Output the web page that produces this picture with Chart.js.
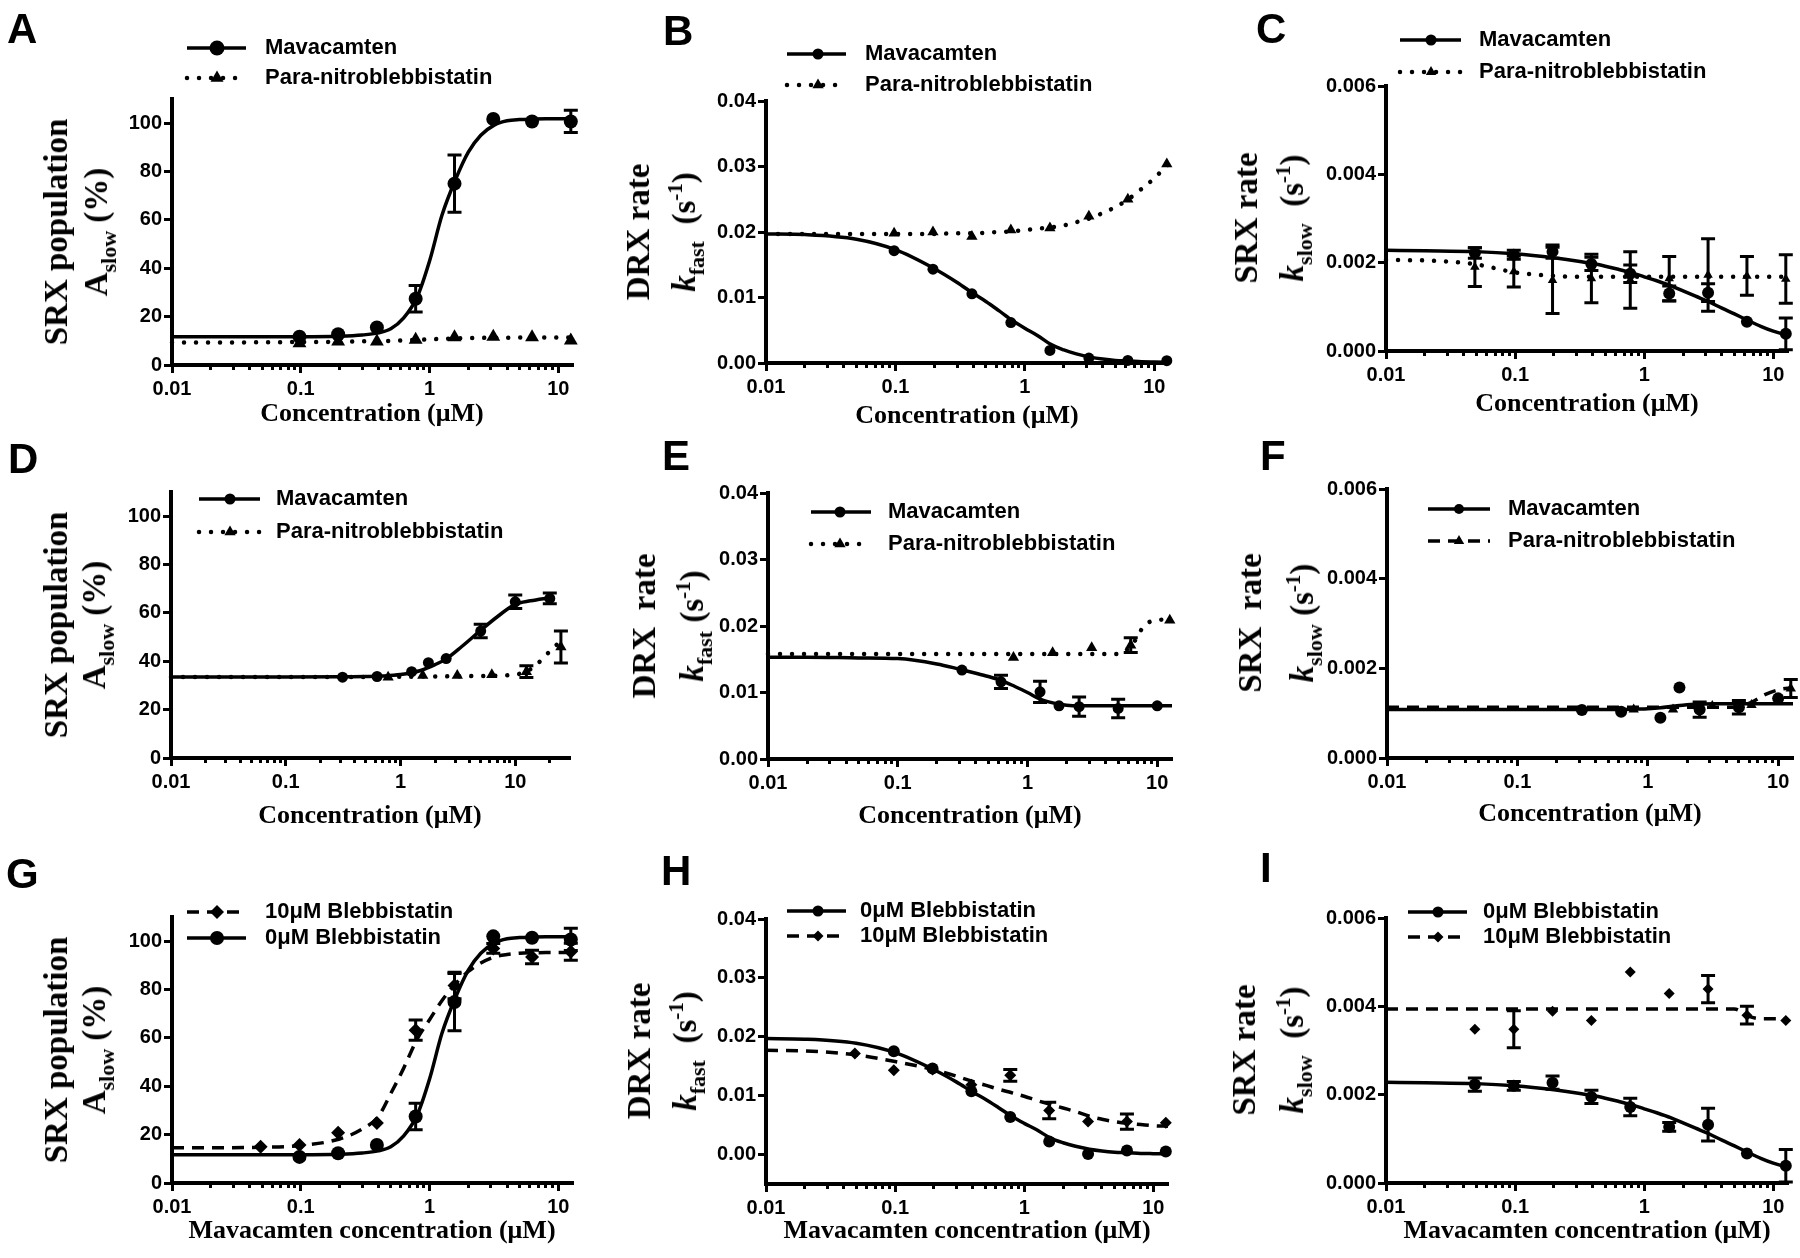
<!DOCTYPE html>
<html><head><meta charset="utf-8">
<script src="https://cdn.jsdelivr.net/npm/chart.js@4.4.1/dist/chart.umd.min.js"></script>
<style>
html,body{margin:0;padding:0;background:#fff;}
#root{position:relative;width:1800px;height:1258px;overflow:hidden;background:#fff;}
canvas{position:absolute;}
.lbl{position:absolute;font-family:"Liberation Sans",Arial,sans-serif;font-weight:bold;font-size:42px;line-height:42px;color:#000;}
.xt{position:absolute;font-family:"Liberation Serif","Times New Roman",serif;font-weight:bold;font-size:26px;line-height:26px;white-space:nowrap;transform:translateX(-50%);color:#000;}
.yt{position:absolute;font-family:"Liberation Serif","Times New Roman",serif;font-weight:bold;font-size:33px;white-space:nowrap;text-align:center;transform:translate(-50%,-50%) rotate(-90deg);color:#000;}
.sb{font-size:22px;position:relative;top:9px;}
.sp{font-size:21px;position:relative;top:-13px;}
</style>
</head><body><div id="root"></div>
<script>
// ---------- x values (µM) ----------
const X8  = [0.0977, 0.195, 0.39, 0.78, 1.5625, 3.125, 6.25, 12.5];
const X9  = [0.0488, 0.0977, 0.195, 0.39, 0.78, 1.5625, 3.125, 6.25, 12.5];
const XM7 = [0.3125, 0.625, 1.25, 1.75, 2.5, 5, 10];
const XM8 = [0.3125, 0.625, 1.25, 1.75, 2.5, 5, 10, 20];
const XP5 = [0.78, 1.5625, 3.125, 6.25, 12.5];
const XP6 = [0.78, 1.5625, 3.125, 6.25, 12.5, 25];
// x positions of the fitted curves
const FX  = [0.01, 0.02, 0.05, 0.1, 0.2, 0.3, 0.4, 0.5, 0.63, 0.8, 1, 1.25, 1.6, 2, 2.5, 3.2, 4, 5, 6.4, 8, 10, 13];
const DXM = [0.01, 0.1, 0.3, 0.5, 0.7, 1, 1.5, 2, 2.5, 3.4, 5, 6.8, 10, 13.6, 20];
const DXP = [0.01, 0.1, 1, 3, 6, 10, 12.5, 15, 18.5, 25];

// ---------- A ----------
const A_mava = [11.7, 12.7, 15.5, 27.4, 75.0, 101.7, 100.7, 100.7];
const A_mava_err = [0, 0, 0, 5.5, 11.8, 0, 0, 4.6];
const A_para = [9.0, 9.7, 9.7, 10.4, 11.5, 11.7, 11.5, 10.1];
const A_mava_fit = [11.7, 11.7, 11.7, 11.7, 11.9, 12.4, 13.3, 15.0, 19.5, 28.0, 43.0, 62.0, 77.0, 88.0, 95.0, 99.3, 101.0, 101.5, 101.7, 101.8, 101.8, 101.8];
const A_para_fit = [9.3, 9.3, 9.4, 9.5, 9.6, 9.8, 9.9, 10.0, 10.2, 10.4, 10.6, 10.8, 11.0, 11.1, 11.2, 11.3, 11.3, 11.4, 11.4, 11.4, 11.4, 11.4];
// ---------- B ----------
const B_mava = [0.01715, 0.01432, 0.01056, 0.00618, 0.00192, 0.00076, 0.00040, 0.00035];
const B_para = [0.0198, 0.0200, 0.0193, 0.0203, 0.0206, 0.0224, 0.0250, 0.0304];
const B_mava_fit = [0.0197, 0.0196, 0.0189, 0.0173, 0.0144, 0.0123, 0.0106, 0.0094, 0.0080, 0.0065, 0.0053, 0.0042, 0.0028, 0.0020, 0.0014, 0.0009, 0.0006, 0.0004, 0.0003, 0.0002, 0.00015, 0.0001];
const B_para_fit = [0.0197, 0.0197, 0.0197, 0.0197, 0.0197, 0.0198, 0.0198, 0.0199, 0.0200, 0.0201, 0.0203, 0.0205, 0.0207, 0.0210, 0.0215, 0.0221, 0.0229, 0.0238, 0.0251, 0.0266, 0.0282, 0.0305];
// ---------- C ----------
const C_mava = [0.00222, 0.00218, 0.00225, 0.00197, 0.00175, 0.00130, 0.00132, 0.00066, 0.00039];
const C_mava_err = [0.00012, 0.0001, 0.00015, 0.00015, 0.0002, 0.00017, 0.0002, 0, 0.00036];
const C_para = [0.0019, 0.0018, 0.0016, 0.00164, 0.00161, 0.00164, 0.00172, 0.0017, 0.00163];
const C_para_err = [0.00044, 0.00035, 0.00075, 0.00055, 0.00064, 0.0005, 0.00082, 0.00044, 0.00055];
const C_mava_fit = [0.00228, 0.00227, 0.00225, 0.0022, 0.00211, 0.00204, 0.00198, 0.00192, 0.00185, 0.00177, 0.00168, 0.00159, 0.00148, 0.00136, 0.00124, 0.00111, 0.00097, 0.00084, 0.00069, 0.00056, 0.00045, 0.00035];
const C_para_fit = [0.00206, 0.00205, 0.00196, 0.00178, 0.00170, 0.00168, 0.00168, 0.00168, 0.00168, 0.00168, 0.00168, 0.00168, 0.00168, 0.00168, 0.00168, 0.00168, 0.00168, 0.00168, 0.00168, 0.00168, 0.00168, 0.00168];
// ---------- D ----------
const D_mava = [33.4, 33.7, 35.7, 39.4, 41.1, 52.5, 64.6, 66.0];
const D_mava_err = [0, 0, 0, 0, 0, 2.8, 2.8, 2.2];
const D_para = [33.4, 34.1, 34.1, 34.4, 35.7, 45.9];
const D_para_err = [0, 0, 0, 0, 2.4, 6.6];
const D_mava_fit = [33.5, 33.5, 33.6, 33.7, 33.9, 34.5, 36.2, 38.6, 41.0, 46.0, 52.8, 58.0, 63.5, 65.0, 66.3];
const D_para_fit = [33.5, 33.5, 33.6, 33.8, 34.0, 34.5, 35.8, 38.2, 42.5, 48.5];
// ---------- E ----------
const E_mava = [0.01337, 0.01161, 0.0101, 0.0080, 0.00786, 0.0076, 0.0080];
const E_mava_err = [0, 0.001, 0.0016, 0, 0.00145, 0.0014, 0];
const E_para = [0.01527, 0.01597, 0.01672, 0.01712, 0.02088];
const E_para_err = [0, 0, 0, 0.0011, 0];
const E_mava_fit = [0.0153, 0.0153, 0.0152, 0.0151, 0.0143, 0.0135, 0.0129, 0.0124, 0.0118, 0.0109, 0.0100, 0.0090, 0.0084, 0.0081, 0.0080, 0.0080, 0.0080, 0.0080, 0.0080, 0.0080, 0.0080, 0.0080];
const E_para_fit = [0.0158, 0.0158, 0.0158, 0.0158, 0.0158, 0.0158, 0.0158, 0.0158, 0.0158, 0.0158, 0.0158, 0.0158, 0.0158, 0.0158, 0.0158, 0.0158, 0.0158, 0.0158, 0.0172, 0.0201, 0.0209, 0.0210];
// ---------- F ----------
const F_mava = [0.00107, 0.00103, 0.0009, 0.00157, 0.00108, 0.00113, 0.00133];
const F_mava_err = [0, 0, 0, 0, 0.00017, 0.00015, 0];
const F_para = [0.00108, 0.00108, 0.00116, 0.00118, 0.00155];
const F_para_err = [0, 0, 0, 0, 0.0002];
const F_mava_fit = [0.00108, 0.00108, 0.00108, 0.00108, 0.00108, 0.00108, 0.00108, 0.00108, 0.00108, 0.00109, 0.0011, 0.00112, 0.00116, 0.00119, 0.0012, 0.00121, 0.00121, 0.00121, 0.00121, 0.00121, 0.00121, 0.00121];
const F_para_fit = [0.00113, 0.00113, 0.00113, 0.00113, 0.00113, 0.00113, 0.00113, 0.00113, 0.00113, 0.00113, 0.00113, 0.00113, 0.00113, 0.00113, 0.00113, 0.00113, 0.00113, 0.00115, 0.00126, 0.00142, 0.00152, 0.00157];
// ---------- G ----------
const G_0 = [10.8, 12.3, 15.7, 27.5, 74.8, 102.0, 101.4, 100.7];
const G_0_err = [0, 0, 0, 5.5, 11.8, 0, 0, 4.6];
const G_10 = [15.0, 15.7, 20.8, 24.8, 63.2, 81.7, 97.0, 93.5, 95.6];
const G_10_err = [0, 0, 0, 0, 4.2, 5.5, 2.0, 2.8, 3.5];
const G_10_fit = [14.6, 14.6, 14.8, 15.5, 18.2, 22.3, 27.5, 37.0, 47.5, 59.5, 67.5, 75.5, 82.5, 87.5, 91.0, 93.5, 94.5, 95.0, 95.2, 95.3, 95.3, 95.3];
// ---------- H ----------
const H_0 = [0.01755, 0.0146, 0.01073, 0.00636, 0.00221, 0.0001, 0.0007, 0.0005];
const H_10 = [0.01715, 0.0143, 0.01443, 0.01187, 0.01346, 0.0075, 0.0056, 0.0056, 0.0054];
const H_10_err = [0, 0, 0, 0, 0.001, 0.0014, 0, 0.0013, 0];
const H_10_fit = [0.0177, 0.0176, 0.0169, 0.0158, 0.0144, 0.0133, 0.0124, 0.0118, 0.0111, 0.0105, 0.0099, 0.0092, 0.0085, 0.0079, 0.0073, 0.0065, 0.0060, 0.0056, 0.0053, 0.0051, 0.0049, 0.0048];
// ---------- I ----------
const I_0 = [0.00223, 0.0022, 0.00227, 0.00195, 0.00172, 0.00127, 0.00132, 0.00067, 0.00039];
const I_0_err = [0.00015, 0.0001, 0.00015, 0.00015, 0.0002, 0.0001, 0.00037, 0, 0.00037];
const I_10 = [0.00348, 0.00348, 0.00389, 0.00368, 0.00478, 0.00429, 0.00439, 0.0038, 0.00368];
const I_10_err = [0, 0.00042, 0, 0, 0, 0, 0.00031, 0.0002, 0];
const I_10_fit = [0.00394, 0.00394, 0.00394, 0.00394, 0.00394, 0.00394, 0.00394, 0.00394, 0.00394, 0.00394, 0.00394, 0.00394, 0.00394, 0.00394, 0.00394, 0.00394, 0.00394, 0.00394, 0.00378, 0.00372, 0.00372, 0.00372];

// ---------- styling / layout ----------
const SOLID = [], DOT = [0.01, 12], DASH = [12, 8];
const TX1 = 'Concentration (μM)', TX2 = 'Mavacamten concentration (μM)';
const YA = ['SRX population', 'A<span class="sb">slow</span> (%)'];
const YB = ['DRX rate', '<i>k</i><span class="sb">fast</span>&nbsp;&nbsp;(s<span class="sp">-1</span>)'];
const YC = ['SRX rate', '<i>k</i><span class="sb">slow</span>&nbsp;&nbsp;(s<span class="sp">-1</span>)'];
const YE = ['DRX&nbsp;&nbsp;rate', '<i>k</i><span class="sb">fast</span>&nbsp;(s<span class="sp">-1</span>)'];
const YF = ['SRX&nbsp;&nbsp;rate', '<i>k</i><span class="sb">slow</span>&nbsp;(s<span class="sp">-1</span>)'];

function S(label, x, y, err, fx, fy, style, r, lr, dash) { return {label, x, y, err, fx, fy, style, r, lr, dash}; }

const panels = [
 {id:'A', ox:0, oy:0, h:420, l:172, t:99, r:573, b:365, ymin:0, ymax:110, ystep:20, dec:0, xmax:13,
  series:[S('Mavacamten', X8, A_mava, A_mava_err, FX, A_mava_fit, 'circle', 7, 7.5, SOLID),
          S('Para-nitroblebbistatin', X8, A_para, null, FX, A_para_fit, 'triangle', 8, 7.5, DOT)],
  leg:{x1:187, x2:246, mx:217, tx:265, rows:[48, 78], items:[0, 1]},
  xt:{x:372, y:415, s:TX1}, yt:{x:78, y:232, lh:40, L:YA}, lab:{x:7, y:13}},
 {id:'B', ox:600, oy:0, h:420, l:766, t:101, r:1169, b:363, ymin:0, ymax:0.04, ystep:0.01, dec:2, xmax:13,
  series:[S('Mavacamten', X8, B_mava, null, FX, B_mava_fit, 'circle', 5.5, 5.5, SOLID),
          S('Para-nitroblebbistatin', X8, B_para, null, FX, B_para_fit, 'triangle', 6.5, 6.5, DOT)],
  leg:{x1:787, x2:846, mx:818, tx:865, rows:[54, 85], items:[0, 1]},
  xt:{x:967, y:417, s:TX1}, yt:{x:663, y:232, lh:46, L:YB}, lab:{x:663, y:15}},
 {id:'C', ox:1200, oy:0, h:420, l:1386, t:86, r:1788, b:351, ymin:0, ymax:0.006, ystep:0.002, dec:3, xmax:13,
  series:[S('Mavacamten', X9, C_mava, C_mava_err, FX, C_mava_fit, 'circle', 6, 5.5, SOLID),
          S('Para-nitroblebbistatin', X9, C_para, C_para_err, FX, C_para_fit, 'triangle', 5.5, 6, DOT)],
  leg:{x1:1400, x2:1461, mx:1431, tx:1479, rows:[40, 72], items:[0, 1]},
  xt:{x:1587, y:405, s:TX1}, yt:{x:1271, y:218, lh:46, L:YC}, lab:{x:1256, y:13}},
 {id:'D', ox:0, oy:420, h:420, l:171, t:492, r:570, b:758, ymin:0, ymax:110, ystep:20, dec:0, xmax:30,
  series:[S('Mavacamten', XM8, D_mava, D_mava_err, DXM, D_mava_fit, 'circle', 5.5, 5.5, SOLID),
          S('Para-nitroblebbistatin', XP6, D_para, D_para_err, DXP, D_para_fit, 'triangle', 6.5, 6.5, DOT)],
  leg:{x1:199, x2:260, mx:230, tx:276, rows:[499, 532], items:[0, 1]},
  xt:{x:370, y:817, s:TX1}, yt:{x:77, y:625, lh:38, L:YA}, lab:{x:8, y:443}},
 {id:'E', ox:600, oy:420, h:420, l:768, t:493, r:1172, b:759, ymin:0, ymax:0.04, ystep:0.01, dec:2, xmax:13,
  series:[S('Mavacamten', XM7, E_mava, E_mava_err, FX, E_mava_fit, 'circle', 5.5, 5.5, SOLID),
          S('Para-nitroblebbistatin', XP5, E_para, E_para_err, FX, E_para_fit, 'triangle', 6.5, 6.5, DOT)],
  leg:{x1:811, x2:871, mx:840, tx:888, rows:[512, 544], items:[0, 1]},
  xt:{x:970, y:817, s:TX1}, yt:{x:670, y:626, lh:48, L:YE}, lab:{x:662, y:440}},
 {id:'F', ox:1200, oy:420, h:420, l:1387, t:489, r:1793, b:758, ymin:0, ymax:0.006, ystep:0.002, dec:3, xmax:13,
  series:[S('Mavacamten', XM7, F_mava, F_mava_err, FX, F_mava_fit, 'circle', 6, 5, SOLID),
          S('Para-nitroblebbistatin', XP5, F_para, F_para_err, FX, F_para_fit, 'triangle', 6, 6, DASH)],
  leg:{x1:1428, x2:1490, mx:1459, tx:1508, rows:[509, 541], items:[0, 1]},
  xt:{x:1590, y:815, s:TX1}, yt:{x:1278, y:623, lh:52, L:YF}, lab:{x:1260, y:440}},
 {id:'G', ox:0, oy:835, h:423, l:172, t:917, r:573, b:1183, ymin:0, ymax:110, ystep:20, dec:0, xmax:13,
  series:[S('0μM Blebbistatin', X8, G_0, G_0_err, FX, A_mava_fit, 'circle', 7, 7, SOLID),
          S('10μM Blebbistatin', X9, G_10, G_10_err, FX, G_10_fit, 'rectRot', 7, 7, DASH)],
  leg:{x1:187, x2:246, mx:217, tx:265, rows:[912, 938], items:[1, 0]},
  xt:{x:372, y:1232, s:TX2}, yt:{x:77, y:1050, lh:38, L:YA}, lab:{x:6, y:858}},
 {id:'H', ox:600, oy:835, h:423, l:766, t:919, r:1168, b:1184, ymin:-0.005, ymax:0.04, ystep:0.01, dec:2, xmax:13,
  series:[S('0μM Blebbistatin', X8, H_0, null, FX, B_mava_fit, 'circle', 6, 5.5, SOLID),
          S('10μM Blebbistatin', X9, H_10, H_10_err, FX, H_10_fit, 'rectRot', 6, 5.5, DASH)],
  leg:{x1:787, x2:846, mx:818, tx:860, rows:[911, 936], items:[0, 1]},
  xt:{x:967, y:1232, s:TX2}, yt:{x:664, y:1051, lh:46, L:YB}, lab:{x:661, y:855}},
 {id:'I', ox:1200, oy:835, h:423, l:1386, t:918, r:1788, b:1183, ymin:0, ymax:0.006, ystep:0.002, dec:3, xmax:13,
  series:[S('0μM Blebbistatin', X9, I_0, I_0_err, FX, C_mava_fit, 'circle', 6, 5.5, SOLID),
          S('10μM Blebbistatin', X9, I_10, I_10_err, FX, I_10_fit, 'rectRot', 5.5, 5.5, DASH)],
  leg:{x1:1408, x2:1467, mx:1438, tx:1483, rows:[912, 937], items:[0, 1]},
  xt:{x:1587, y:1232, s:TX2}, yt:{x:1270, y:1050, lh:48, L:YC}, lab:{x:1260, y:852}}
];

const YW = 80, XH = 40;
const SANS = '"Liberation Sans", Arial, sans-serif';

function pts(xs, ys) { return xs.map((x, i) => ({x: x, y: ys[i]})); }
function isDecade(v) { const l = Math.log10(v); return Math.abs(l - Math.round(l)) < 1e-6; }
function intMant(v) { const e = Math.floor(Math.log10(v) + 1e-9); const m = v / Math.pow(10, e); return Math.abs(m - Math.round(m)) < 1e-6; }

function marker(ctx, style, x, y, r) {
  ctx.beginPath();
  if (style === 'circle') { ctx.arc(x, y, r, 0, 2 * Math.PI); }
  else if (style === 'triangle') {
    for (let k = 0; k < 3; k++) { const a = k * 2 * Math.PI / 3; const px = x + Math.sin(a) * r, py = y - Math.cos(a) * r; if (k) ctx.lineTo(px, py); else ctx.moveTo(px, py); }
  } else { ctx.moveTo(x, y - r); ctx.lineTo(x + r, y); ctx.lineTo(x, y + r); ctx.lineTo(x - r, y); }
  ctx.closePath(); ctx.fill();
}

const errPlugin = {
  id: 'errbars',
  beforeDatasetsDraw(chart) {
    const ctx = chart.ctx, xs = chart.scales.x, ys = chart.scales.y;
    ctx.save(); ctx.strokeStyle = '#000'; ctx.lineWidth = 3; ctx.setLineDash([]);
    chart.data.datasets.forEach(ds => {
      if (!ds.errs) return;
      ds.data.forEach((p, i) => {
        const e = ds.errs[i]; if (!e) return;
        const px = xs.getPixelForValue(p.x), y1 = ys.getPixelForValue(p.y + e), y2 = ys.getPixelForValue(p.y - e);
        ctx.beginPath();
        ctx.moveTo(px, y1); ctx.lineTo(px, y2);
        ctx.moveTo(px - 7, y1); ctx.lineTo(px + 7, y1);
        ctx.moveTo(px - 7, y2); ctx.lineTo(px + 7, y2);
        ctx.stroke();
      });
    });
    ctx.restore();
  }
};

const root = document.getElementById('root');

panels.forEach(p => {
  const cv = document.createElement('canvas');
  cv.width = 600; cv.height = p.h;
  cv.style.left = p.ox + 'px'; cv.style.top = p.oy + 'px';
  cv.style.width = '600px'; cv.style.height = p.h + 'px';
  root.appendChild(cv);

  const datasets = [];
  p.series.forEach(s => {
    datasets.push({
      data: pts(s.fx, s.fy), borderColor: '#000', borderWidth: s.dash === DOT ? 4.5 : 3.5,
      borderDash: s.dash, borderCapStyle: s.dash === DOT ? 'round' : 'butt',
      pointRadius: 0, pointHoverRadius: 0, cubicInterpolationMode: 'monotone', fill: false, clip: false, order: 2
    });
  });
  p.series.forEach(s => {
    datasets.push({
      data: pts(s.x, s.y), showLine: false, pointStyle: s.style, pointRadius: s.r, pointHoverRadius: s.r,
      pointBackgroundColor: '#000', pointBorderWidth: 0, borderColor: '#000', backgroundColor: '#000',
      errs: s.err, clip: false, order: 1
    });
  });

  const legPlugin = {
    id: 'leg' + p.id,
    afterDraw(chart) {
      const ctx = chart.ctx, L = p.leg;
      L.items.forEach((idx, k) => {
        const s = p.series[idx];
        const y = L.rows[k] - p.oy;
        ctx.save();
        ctx.strokeStyle = '#000'; ctx.fillStyle = '#000';
        ctx.lineWidth = s.dash === DOT ? 4.5 : 3.5;
        ctx.lineCap = s.dash === DOT ? 'round' : 'butt';
        ctx.setLineDash(s.dash);
        ctx.beginPath(); ctx.moveTo(L.x1 - p.ox, y); ctx.lineTo(L.x2 - p.ox, y); ctx.stroke();
        ctx.setLineDash([]);
        marker(ctx, s.style, L.mx - p.ox, y, s.lr);
        ctx.font = 'bold 22px ' + SANS; ctx.textBaseline = 'middle'; ctx.textAlign = 'left';
        ctx.fillText(s.label, L.tx - p.ox, y);
        ctx.restore();
      });
    }
  };

  new Chart(cv, {
    type: 'line',
    data: {datasets},
    plugins: [errPlugin, legPlugin],
    options: {
      responsive: false, animation: false, events: [], devicePixelRatio: 1,
      layout: {padding: {left: p.l - p.ox - YW, right: p.ox + 600 - p.r, top: p.t - p.oy, bottom: p.oy + p.h - p.b - XH}},
      plugins: {legend: {display: false}, tooltip: {enabled: false}, title: {display: false}},
      scales: {
        x: {
          type: 'logarithmic', position: 'bottom', min: 0.01, max: p.xmax, offset: false,
          border: {display: true, width: 4, color: '#000'},
          grid: {
            display: true, drawOnChartArea: false, drawTicks: true, tickLength: 8, tickWidth: 3,
            tickColor: c => (c.tick && intMant(c.tick.value) && c.tick.value < p.xmax * 0.999) ? '#000' : 'rgba(0,0,0,0)',
            tickBorderDash: c => (c.tick && isDecade(c.tick.value)) ? [] : [3, 60]
          },
          ticks: {
            autoSkip: false, maxRotation: 0, minRotation: 0, padding: 4, color: '#000',
            font: {family: SANS, weight: 'bold', size: 20},
            callback: v => isDecade(v) ? String(Math.pow(10, Math.round(Math.log10(v)))) : ''
          },
          afterFit: s => { s.height = XH; s.paddingLeft = 0; s.paddingRight = 0; }
        },
        y: {
          type: 'linear', position: 'left', min: p.ymin, max: p.ymax,
          border: {display: true, width: 4, color: '#000'},
          grid: {display: true, drawOnChartArea: false, drawTicks: true, tickLength: 8, tickWidth: 3, tickColor: '#000'},
          ticks: {
            stepSize: p.ystep, includeBounds: false, padding: 2, color: '#000',
            font: {family: SANS, weight: 'bold', size: 20},
            callback: v => Number(v).toFixed(p.dec)
          },
          afterFit: s => { s.width = YW; s.paddingTop = 0; s.paddingBottom = 0; }
        }
      }
    }
  });

  // panel letter
  const lb = document.createElement('div');
  lb.className = 'lbl'; lb.textContent = p.id;
  lb.style.left = p.lab.x + 'px'; lb.style.top = (p.lab.y - 5.5) + 'px';
  root.appendChild(lb);
  // x title
  const xt = document.createElement('div');
  xt.className = 'xt'; xt.textContent = p.xt.s;
  xt.style.left = p.xt.x + 'px'; xt.style.top = (p.xt.y - 15) + 'px';
  root.appendChild(xt);
  // y title
  const yt = document.createElement('div');
  yt.className = 'yt';
  yt.style.left = p.yt.x + 'px'; yt.style.top = p.yt.y + 'px';
  yt.innerHTML = '<div style="line-height:' + p.yt.lh + 'px">' + p.yt.L[0] + '</div><div style="line-height:' + p.yt.lh + 'px">' + p.yt.L[1] + '</div>';
  root.appendChild(yt);
});
</script>
</body></html>
